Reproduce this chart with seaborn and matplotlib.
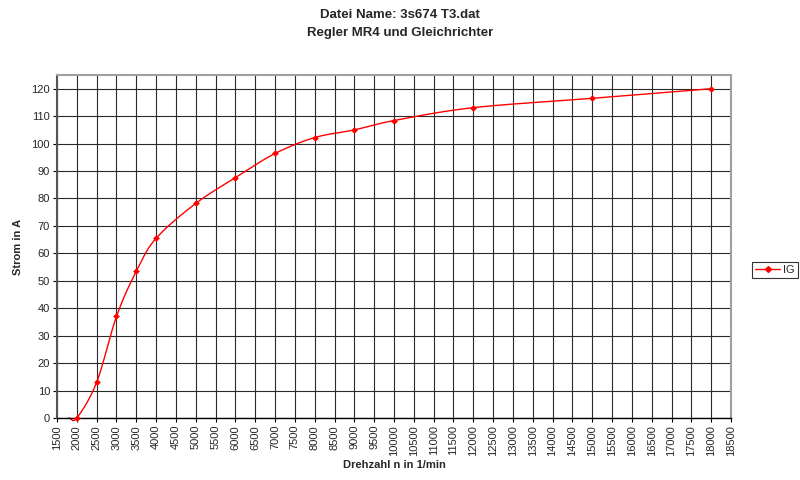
import numpy as np
import pandas as pd
import matplotlib
matplotlib.use("Agg")
import matplotlib.pyplot as plt
import seaborn as sns
from matplotlib.lines import Line2D

# Data
drehzahl = [1800, 2000, 2500, 3000, 3500, 4000, 5000, 6000, 7000, 8000, 9000, 10000, 12000, 15000, 18000]
strom_ig = [0.0, 0.0, 13.0, 37.0, 53.5, 65.5, 78.2, 87.6, 96.4, 102.2, 105.0, 108.4, 113.1, 116.5, 120.0]
x_ticks = list(range(1500, 18501, 500))
y_ticks = list(range(0, 121, 10))
title = "Datei Name: 3s674 T3.dat\nRegler MR4 und Gleichrichter"
x_label = "Drehzahl n in 1/min"
y_label = "Strom in A"
series_name = "IG"

sns.set_style("white")
plt.rcParams['font.family'] = ['Liberation Sans', 'DejaVu Sans']


def catmull_rom(xs, ys, n=30):
    xs = np.asarray(xs, float)
    ys = np.asarray(ys, float)
    px = np.concatenate([[2 * xs[0] - xs[1]], xs, [2 * xs[-1] - xs[-2]]])
    py = np.concatenate([[2 * ys[0] - ys[1]], ys, [2 * ys[-1] - ys[-2]]])
    ox, oy = [], []
    for i in range(1, len(px) - 2):
        t = np.linspace(0, 1, n, endpoint=False)
        t2, t3 = t * t, t * t * t
        for arr, out in ((px, ox), (py, oy)):
            p0, p1, p2, p3 = arr[i - 1], arr[i], arr[i + 1], arr[i + 2]
            out.extend(0.5 * ((2 * p1) + (-p0 + p2) * t + (2 * p0 - 5 * p1 + 4 * p2 - p3) * t2
                              + (-p0 + 3 * p1 - 3 * p2 + p3) * t3))
    ox.append(xs[-1]); oy.append(ys[-1])
    return np.array(ox), np.array(oy)


sx, sy = catmull_rom(drehzahl, strom_ig)
smooth = pd.DataFrame({"x": sx, "y": sy})
pts = pd.DataFrame({"x": drehzahl[1:], "y": strom_ig[1:]})

fig = plt.figure(figsize=(8, 4.8), dpi=100)
ax = fig.add_axes([57 / 800, 62 / 480, 674 / 800, 343 / 480])

sns.lineplot(data=smooth, x="x", y="y", ax=ax, color="red", linewidth=1.0, sort=False, estimator=None)
for ln in ax.get_lines():
    ln.set_clip_on(False)
sns.scatterplot(data=pts, x="x", y="y", ax=ax, color="red", marker="D", s=9, edgecolor="red", linewidth=0.4, zorder=5,
                clip_on=False)

ax.set_xlim(1500, 18500)
ax.set_ylim(0, 125)
ax.set_xticks(x_ticks)
ax.set_xticklabels([str(v) for v in x_ticks], rotation=90, fontsize=8)
ax.set_yticks(y_ticks)
ax.set_yticklabels([str(v) for v in y_ticks], fontsize=8)
ax.grid(True, color="#2a2a2a", linewidth=0.8)
ax.set_axisbelow(True)
for s in ax.spines.values():
    s.set_color("#a0a0a0")
    s.set_linewidth(1.5)
ax.spines["left"].set_color("#555555")
ax.spines["bottom"].set_color("black")
ax.spines["bottom"].set_linewidth(1.0)
ax.tick_params(axis="both", length=3, width=0.8, color="black", pad=2, direction="out", bottom=True, left=True)

ax.set_xlabel(x_label, fontsize=8, fontweight="bold", labelpad=3)
ax.set_ylabel(y_label, fontsize=8, fontweight="bold", labelpad=6)
fig.text(0.5, 1 - 24 / 480, title, ha="center", va="center", fontsize=9.5, fontweight="bold", linespacing=1.6)

handle = Line2D([0], [0], color="red", lw=1, marker="D", markersize=3)
leg = fig.legend([handle], [series_name], loc="center left", bbox_to_anchor=(752 / 800, 1 - 270 / 480),
                 frameon=True, fancybox=False, fontsize=8, handlelength=2.2, borderpad=0.3,
                 handletextpad=0.3, borderaxespad=0)
leg.get_frame().set_edgecolor("black")
leg.get_frame().set_linewidth(0.8)

fig.savefig("out.png", dpi=100)
